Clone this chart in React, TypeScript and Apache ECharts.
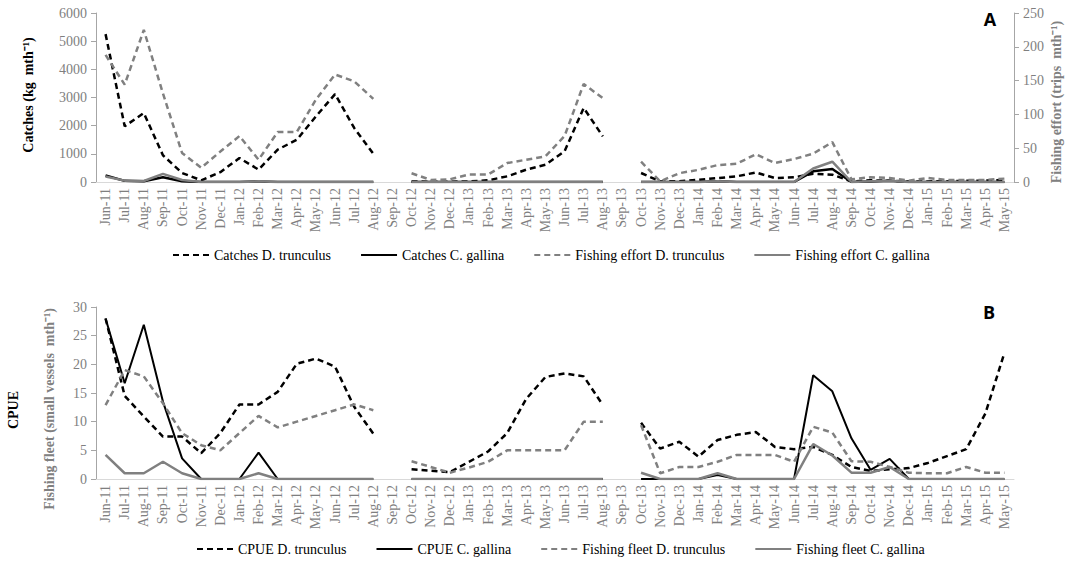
import React, { useEffect, useRef } from "react";
import * as echarts from "echarts";

const months = [
  "Jun-11","Jul-11","Aug-11","Sep-11","Oct-11","Nov-11","Dec-11","Jan-12","Feb-12","Mar-12","Apr-12","May-12",
  "Jun-12","Jul-12","Aug-12","Sep-12","Oct-12","Nov-12","Dec-12","Jan-13","Feb-13","Mar-13","Apr-13","May-13",
  "Jun-13","Jul-13","Aug-13","Sep-13","Oct-13","Nov-13","Dec-13","Jan-14","Feb-14","Mar-14","Apr-14","May-14",
  "Jun-14","Jul-14","Aug-14","Sep-14","Oct-14","Nov-14","Dec-14","Jan-15","Feb-15","Mar-15","Apr-15","May-15",
];

// Panel A
const catchesDT = [5250,1980,2450,950,320,60,350,850,440,1150,1500,2330,3120,1920,1000,null,20,10,10,20,60,200,440,615,1090,2630,1620,null,320,20,30,80,140,200,340,140,165,290,260,20,60,50,20,20,30,40,50,70];
const catchesCG = [230,40,30,170,30,0,0,0,20,0,0,0,0,0,0,null,0,0,0,0,0,0,0,0,0,0,0,null,0,0,0,0,30,0,0,0,0,380,460,0,20,40,0,0,0,0,0,0];
const effortDT = [188,144,225,131,43,21,45,68,33,74,74,122,159,149,123,null,13,3,4,11,11,28,33,38,68,145,124,null,30,1,13,18,25,27,41,28,34,42,59,4,7,6,2,6,3,3,3,5];
const effortCG = [8,2,1.5,12,3,0,0,0,1,0,0,0,0,0,0,null,0,0,0,0,0,0,0,0,0,0,0,null,0,0,0,0,1,0,0,0,0,20,30,0,1,2,0,0,0,0,0,0];

// Panel B
const cpueDT = [28,14.5,10.9,7.4,7.4,4.5,8,13,13,15.2,20.1,21,19.6,12.6,7.9,null,1.7,1.45,1.2,3,4.8,8,14,17.8,18.4,17.9,12.9,null,9.8,5.3,6.5,3.9,6.8,7.7,8.2,5.6,5.2,5.6,4.2,2.1,1.4,1.7,1.9,2.8,4,5.2,11.4,22];
const cpueCG = [28,16.7,26.9,13.5,3.6,0,0,0,4.6,0,0,0,0,0,0,null,0,0,0,0,0,0,0,0,0,0,0,null,0,0,0,0,0.7,0,0,0,0,18.1,15.3,7.1,1.6,3.5,0,0,0,0,0,0];
const fleetDT = [12.9,19,17.9,13.2,8,5.9,5,8,11,9,10,11,12,13,12,null,3.1,2.1,1.1,2,3,5,5,5,5,10,10,null,9.4,1,2.1,2.1,3,4.2,4.2,4.2,3,9.1,8.1,3.1,3,2.1,1.1,1,1,2.1,1.1,1.1];
const fleetCG = [4.2,1,1,3,1,0,0,0,1,0,0,0,0,0,0,null,0,0,0,0,0,0,0,0,0,0,0,null,1.1,0,0,0,1,0,0,0,0,6.1,4.1,1.1,1.1,2.1,0,0,0,0,0,0];

const namesA = ["Catches D. trunculus", "Catches C. gallina", "Fishing effort D. trunculus", "Fishing effort C. gallina"];
const namesB = ["CPUE D. trunculus", "CPUE C. gallina", "Fishing fleet D. trunculus", "Fishing fleet C. gallina"];

const SERIF = "Liberation Serif";
const GRAY = "#808080";
const LABEL_GRAY = "#7f7f7f";

export default function App() {
  const ref = useRef<HTMLDivElement>(null);
  useEffect(() => {
    if (!ref.current) return;
    const chart = echarts.init(ref.current, undefined, { renderer: "svg" });

    const xAxisBase = (gridIndex: number) => ({
      type: "category",
      gridIndex,
      data: months,
      boundaryGap: true,
      axisTick: { show: false },
      axisLine: { lineStyle: { color: "#d9d9d9", width: 1 } },
      axisLabel: {
        interval: 0,
        rotate: 90,
        color: LABEL_GRAY,
        fontFamily: SERIF,
        fontSize: 14,
        margin: 6,
      },
    });
    const yAxisBase = (gridIndex: number, position: string, max: number, interval: number) => ({
      type: "value",
      gridIndex,
      position,
      min: 0,
      max,
      interval,
      splitLine: { show: false },
      axisLine: { show: true, lineStyle: { color: "#a6a6a6" } },
      axisTick: { show: true, length: 5, lineStyle: { color: "#a6a6a6" } },
      axisLabel: {
        color: LABEL_GRAY,
        fontFamily: SERIF,
        fontSize: 14,
        margin: 9,
        formatter: (v: number) => String(v),
      },
    });

    const mk = (name: string, data: any[], xi: number, yi: number, color: string, dashed: boolean, width: number) => ({
      name,
      type: "line",
      data,
      xAxisIndex: xi,
      yAxisIndex: yi,
      symbol: "none",
      showSymbol: false,
      connectNulls: false,
      lineStyle: { color, width, type: dashed ? [6, 4] : "solid" },
      itemStyle: { color },
    });

    const legendBase = (data: string[], left: number, top: number) => ({
      data,
      left,
      top,
      itemWidth: 36,
      itemHeight: 12,
      itemGap: 29,
      itemStyle: { color: "rgba(0,0,0,0)", borderColor: "rgba(0,0,0,0)", borderWidth: 0 },
      textStyle: { fontFamily: SERIF, fontSize: 14, color: "#000" },
    });

    const rotText = (text: string, x: number, y: number, color: string) => ({
      type: "text",
      x,
      y,
      rotation: Math.PI / 2,
      style: {
        text,
        fill: color,
        font: `bold 14px "${SERIF}"`,
        align: "center",
        verticalAlign: "middle",
      },
    });

    chart.setOption({
      animation: false,
      backgroundColor: "#fff",
      grid: [
        { left: 96, top: 13, width: 918, height: 169 },
        { left: 96, top: 307, width: 918, height: 172 },
      ],
      xAxis: [xAxisBase(0), xAxisBase(1)],
      yAxis: [
        yAxisBase(0, "left", 6000, 1000),
        yAxisBase(0, "right", 250, 50),
        yAxisBase(1, "left", 30, 5),
      ],
      legend: [legendBase(namesA, 167, 243), legendBase(namesB, 191, 537)],
      series: [
        mk(namesA[0], catchesDT, 0, 0, "#000", true, 2.5),
        mk(namesA[1], catchesCG, 0, 0, "#000", false, 2.5),
        mk(namesA[2], effortDT, 0, 1, GRAY, true, 2.5),
        mk(namesA[3], effortCG, 0, 1, GRAY, false, 2.5),
        mk(namesB[0], cpueDT, 1, 2, "#000", true, 2.5),
        mk(namesB[1], cpueCG, 1, 2, "#000", false, 2),
        mk(namesB[2], fleetDT, 1, 2, GRAY, true, 2.5),
        mk(namesB[3], fleetCG, 1, 2, GRAY, false, 2.5),
      ],
      graphic: [
        rotText("Catches (kg  mth⁻¹)", 28, 95, "#000"),
        rotText("Fishing effort (trips  mth⁻¹)", 1056, 102, GRAY),
        rotText("CPUE", 13, 410, "#000"),
        rotText("Fishing fleet (small vessels  mth⁻¹)", 49, 409, GRAY),
        {
          type: "text",
          x: 990,
          y: 19,
          style: { text: "A", fill: "#000", font: 'bold 18px "Open Sans"', align: "center", verticalAlign: "middle" },
        },
        {
          type: "text",
          x: 989,
          y: 312,
          style: { text: "B", fill: "#000", font: 'bold 18px "Open Sans"', align: "center", verticalAlign: "middle" },
        },
      ],
    });
    return () => chart.dispose();
  }, []);
  return (
    <div
      ref={ref}
      style={{ position: "fixed", left: 0, top: 0, width: 1073, height: 561, background: "#fff" }}
    />
  );
}
